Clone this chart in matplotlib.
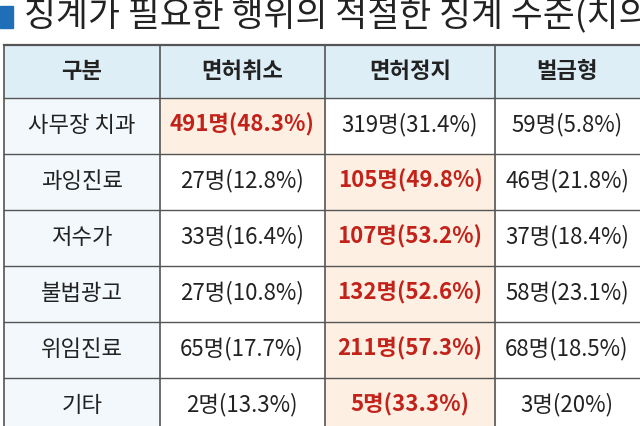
import matplotlib.pyplot as plt
from matplotlib.patches import Rectangle

plt.rcParams['font.family'] = ['Noto Sans CJK KR', 'DejaVu Sans']

title = "징계가 필요한 행위의 적절한 징계 수준(치의"
headers = ["구분", "면허취소", "면허정지", "벌금형"]
categories = ["사무장 치과", "과잉진료", "저수가", "불법광고", "위임진료", "기타"]
revoke = ["491명(48.3%)", "27명(12.8%)", "33명(16.4%)", "27명(10.8%)", "65명(17.7%)", "2명(13.3%)"]
suspend = ["319명(31.4%)", "105명(49.8%)", "107명(53.2%)", "132명(52.6%)", "211명(57.3%)", "5명(33.3%)"]
fine = ["59명(5.8%)", "46명(21.8%)", "37명(18.4%)", "58명(23.1%)", "68명(18.5%)", "3명(20%)"]
# which column (0=revoke,1=suspend,2=fine) is highlighted per row
highlight = [0, 1, 1, 1, 1, 1]

fig = plt.figure(figsize=(6.4, 4.26), dpi=100)
ax = fig.add_axes([0, 0, 1, 1])
ax.set_xlim(0, 640)
ax.set_ylim(426, 0)
ax.axis('off')

col_x = [4, 160, 325, 495, 660]
row_y = [45, 98, 154, 210, 266, 322, 378, 434]
line_c = '#555555'
red = '#c3221b'

# title
ax.add_patch(Rectangle((0, 6), 13, 22, color='#1f6fb8'))
ax.text(24, 15, title, fontsize=25, va='center', ha='left', color='#222222')

# header background
ax.add_patch(Rectangle((col_x[0], row_y[0]), col_x[-1] - col_x[0], row_y[1] - row_y[0],
                       color='#ddeef7', zorder=0))
# first column background
ax.add_patch(Rectangle((col_x[0], row_y[1]), col_x[1] - col_x[0], row_y[-1] - row_y[1],
                       color='#f2f8fc', zorder=0))

centers = [82, 242, 410, 567]
for j, h in enumerate(headers):
    ax.text(centers[j], (row_y[0] + row_y[1]) / 2, h,
            ha='center', va='center', fontsize=16, fontweight='bold', color='#222222')

for i, cat in enumerate(categories):
    cy = (row_y[i + 1] + row_y[i + 2]) / 2 - 1
    ax.text(centers[0], cy, cat, ha='center', va='center', fontsize=16, color='#222222')
    for j, vals in enumerate([revoke, suspend, fine]):
        hl = highlight[i] == j
        if hl:
            ax.add_patch(Rectangle((col_x[j + 1], row_y[i + 1]), col_x[j + 2] - col_x[j + 1],
                                   row_y[i + 2] - row_y[i + 1], color='#fdf0e2', zorder=0))
        ax.text(centers[j + 1], cy, vals[i], ha='center', va='center', fontsize=16,
                color=red if hl else '#222222', fontweight='bold' if hl else 'normal')

for x in col_x:
    ax.plot([x, x], [row_y[0], row_y[-1]], color=line_c, lw=1.2)
for k, y in enumerate(row_y[:-1]):
    ax.plot([col_x[0], col_x[-1]], [y, y], color=line_c, lw=1.6 if k == 0 else 1)

fig.savefig('out.png', dpi=100)
